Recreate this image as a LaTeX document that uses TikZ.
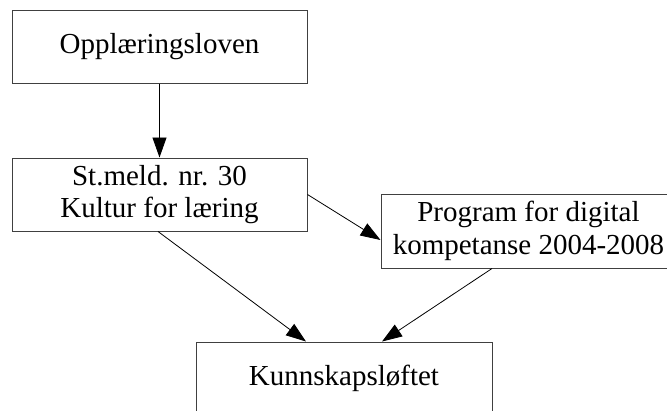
\documentclass[tikz,border=0pt]{standalone}
\usepackage{fontspec}
\setmainfont{Liberation Serif}
\usetikzlibrary{arrows.meta,calc}
\tikzset{
  boxnode/.style={draw=black!75, line width=1pt, rectangle, align=center,
    minimum width=295pt, minimum height=73pt, inner sep=0pt,
    font=\fontsize{29}{32.5}\selectfont},
  conn/.style={draw=black, line width=0.8pt, -{Triangle[length=20pt,width=14pt]}}
}
\begin{document}
\begin{tikzpicture}[x=1pt,y=-1pt]
\useasboundingbox (0,0) rectangle (667,410);
\clip (0,0) rectangle (667,410);
\node[boxnode] (n1) at (159.5,46.5) {Opplæringsloven};
\node[boxnode] (n2) at (159.5,194.5) {St.meld. nr. 30\\Kultur for læring};
\node[boxnode, minimum height=74pt] (n3) at (528.5,231) {Program for digital\\kompetanse 2004-2008};
\node[boxnode, minimum width=296pt] (n4) at (344,378.5) {Kunnskapsløftet};
\draw[conn] (n1.south) -- (n2.north);
\draw[conn] (n2.east) -- ($(n3.west)+(0,9)$);
\draw[conn] ($(n2.south)+(-1.5,0)$) -- ($(n4.north)+(-38,0)$);
\draw[conn] ($(n3.south)+(-36.5,0)$) -- ($(n4.north)+(38,0)$);
\end{tikzpicture}
\end{document}
